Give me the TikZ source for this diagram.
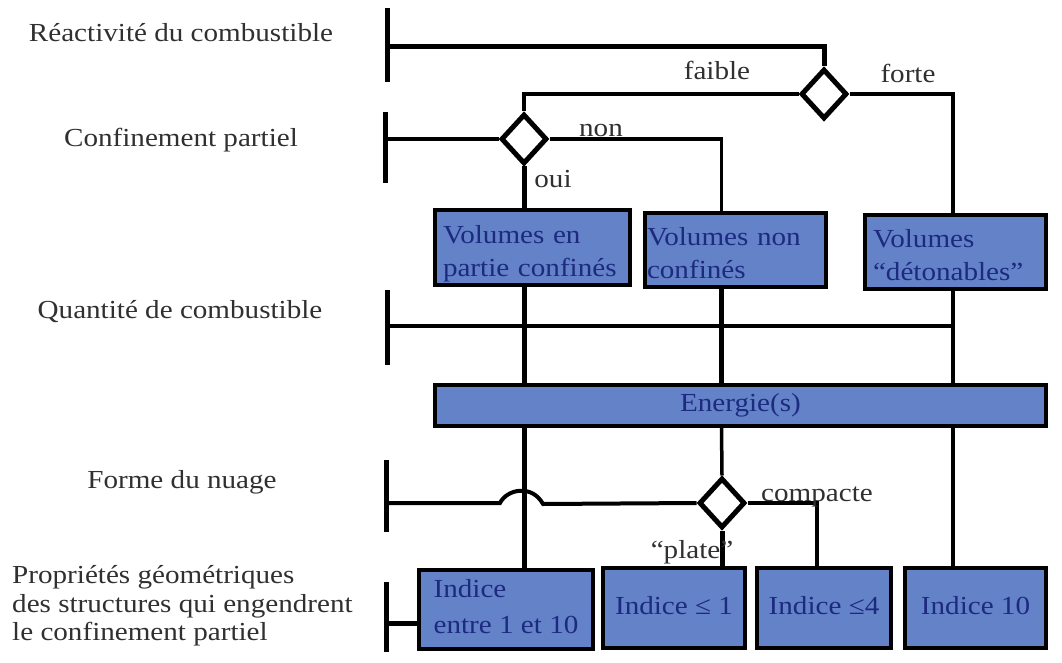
\documentclass[tikz,border=0pt]{standalone}
\usepackage{fontspec}
\setmainfont{Liberation Serif}[FakeStretch=1.12]
\usetikzlibrary{shapes.geometric,calc}
\definecolor{boxblue}{HTML}{6482C8}
\definecolor{boxtext}{HTML}{1C2A80}
\definecolor{labtext}{HTML}{303030}
\newcommand{\boxlines}[2]{\rule{0pt}{30pt}#1\\#2\rule[-6pt]{0pt}{6pt}}
\tikzset{
  lab/.style={text=labtext, font=\fontsize{26}{28.5}\selectfont, inner sep=0pt},
  box/.style={draw=black, line width=4pt, fill=boxblue, text=boxtext, font=\fontsize{26}{33}\selectfont, inner ysep=2pt},
  onebox/.style={box, text height=18pt, text depth=6pt, minimum height=80pt},
  dia/.style={diamond, draw=black, line width=5pt, fill=white, minimum width=46pt, minimum height=50pt, inner sep=0pt},
  thk/.style={line width=5pt},
  mid/.style={line width=4pt},
  thn/.style={line width=3.5pt},
  bar/.style={line width=5pt}
}
\begin{document}
\begin{tikzpicture}[x=1pt,y=-1pt]
\useasboundingbox (0,0) rectangle (1062,663);
\fill[white] (0,0) rectangle (1062,663);
% left labels
\node[lab, anchor=base] (lreact) at (181,42) {Réactivité du combustible};
\node[lab, anchor=base] (lconf) at (181,147) {Confinement partiel};
\node[lab, anchor=base] (lquant) at (180,318) {Quantité de combustible};
\node[lab, anchor=base] (lforme) at (182,488) {Forme du nuage};
\node[lab, anchor=north west, align=left] (lprop) at (12,565.5) {Propriétés géométriques\\des structures qui engendrent\\le confinement partiel};
% bars
\coordinate (b1) at (387,47);
\coordinate (b2) at (385,139);
\coordinate (b3) at (387,326);
\coordinate (b4) at (386,503);
\coordinate (b5) at (386,623);
\draw[bar] (387,8) -- (387,82);
\draw[bar] (385,112) -- (385,183);
\draw[bar] (387,290) -- (387,365);
\draw[bar] (386,460) -- (386,532);
\draw[bar] (386,582) -- (386,652);
% column x positions
\coordinate (x1) at (524,0);
\coordinate (x2) at (721.5,0);
\coordinate (x3) at (953,0);
\coordinate (x4) at (817,0);
% diamonds
\node[dia] (d1) at (824,94) {};
\node[dia] (d2) at (524,139) {};
\node[dia] (d3) at (722,503) {};
% boxes
\node[box, minimum width=195pt, minimum height=75pt, text width=179pt, inner xsep=8pt, align=left] (v1) at (532.5,247.5) {\boxlines{Volumes en}{partie confinés}};
\node[box, minimum width=181pt, minimum height=74pt, text width=177pt, inner xsep=2pt, align=left] (v2) at (735.5,250) {\boxlines{Volumes non}{confinés}};
\node[box, minimum width=181pt, minimum height=74pt, text width=165pt, inner xsep=8pt, align=left] (v3) at (955.5,252) {\boxlines{Volumes}{“détonables”}};
\node[box, minimum width=611pt, minimum height=41pt, text height=18pt, text depth=6pt] (en) at (740.5,405.5) {Energie(s)\hspace{29pt}};
\node[box, minimum width=174pt, minimum height=79pt, align=left, font=\fontsize{26}{36}\selectfont] (i1) at (506,609.5) {Indice\\entre 1 et 10\rule[-6pt]{0pt}{6pt}};
\node[onebox, minimum width=142pt] (i2) at (674,608) {Indice ≤ 1};
\node[onebox, minimum width=134pt] (i3) at (824,608) {Indice ≤4};
\node[onebox, minimum width=141pt] (i4) at (975.5,608) {Indice 10};
% connectors
\draw[thk] (b1) -| (d1.north);
\draw[mid] (d1.west) -| (d2.north);
\draw[thn] (d1.east) -| (x3 |- v3.north);
\draw[mid] (b2) -- (d2.west);
\draw[thn] (d2.east) -| (x2 |- v2.north);
\draw[thk] (d2.south) -- (x1 |- v1.north);
\draw[thk] (x1 |- v1.south) -- (x1 |- en.north);
\draw[thk] (x2 |- v2.south) -- (x2 |- en.north);
\draw[thn] (x3 |- v3.south) -- (x3 |- en.north);
\draw[thn] (b3) -- (x3 |- b3);
\draw[thk] (x1 |- en.south) -- (x1 |- i1.north);
\draw[thn] (x2 |- en.south) -- (d3.north);
\coordinate (hopA) at (500,503);
\coordinate (hopB) at (543,504);
\draw[mid] (b4) -- (hopA) .. controls (507,489) and (532,484) .. (hopB) -- (d3.west);
\draw[thk] (d3.south) -- (d3.south |- i2.north);
\draw[thn] (d3.east) -| (x4 |- i3.north);
\draw[thn] (x3 |- en.south) -- (x3 |- i4.north);
\draw[thk] (b5) -- (b5 -| i1.west);
% branch labels
\node[lab, anchor=base] (tfaible) at (717,80) {faible};
\node[lab, anchor=base] (tforte) at (908,83) {forte};
\node[lab, anchor=base] (tnon) at (601,137) {non};
\node[lab, anchor=base] (toui) at (553,188) {oui};
\node[lab, anchor=base] (tcomp) at (817,501) {compacte};
\node[lab, anchor=base] (tplate) at (692,558) {“plate”};
\end{tikzpicture}
\end{document}
